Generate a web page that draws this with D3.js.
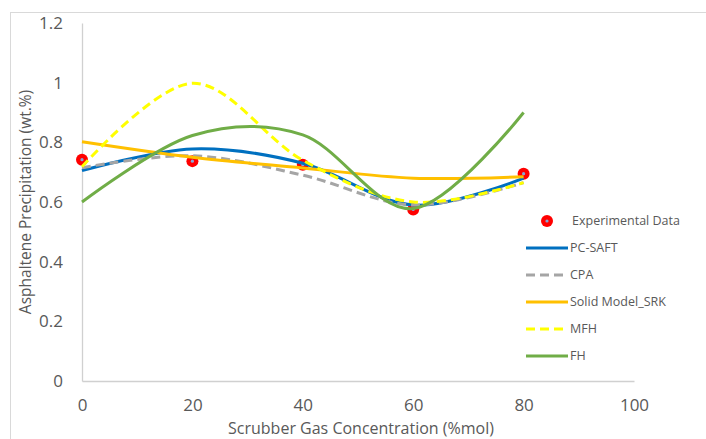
<!DOCTYPE html>
<html><head><meta charset="utf-8">
<script src="https://cdn.jsdelivr.net/npm/d3@7"></script>
<style>body{margin:0;background:#fff;} svg{display:block;}</style>
</head><body>
<script>
const xValues = [0, 20, 40, 60, 80];
const experimental = [0.742, 0.737, 0.725, 0.575, 0.695];
const pcSaft = [0.705, 0.778, 0.73, 0.59, 0.68];
const cpa = [0.715, 0.755, 0.69, 0.59, 0.665];
const solidSRK = [0.802, 0.75, 0.714, 0.68, 0.685];
const mfh = [0.718, 0.998, 0.74, 0.6, 0.665];
const fh = [0.6, 0.823, 0.825, 0.578, 0.9];
const xTicks = [0, 20, 40, 60, 80, 100];
const yTicks = [0, 0.2, 0.4, 0.6, 0.8, 1, 1.2];
const seriesNames = ["Experimental Data", "PC-SAFT", "CPA", "Solid Model_SRK", "MFH", "FH"];

const W = 706, H = 439;
const font = "'Open Sans', sans-serif";
const textColor = "#595959";
const svg = d3.select("body").append("svg").attr("width", W).attr("height", H);

svg.append("rect").attr("x", 10.5).attr("y", 12.5).attr("width", 720).attr("height", 450)
  .attr("fill", "#fff").attr("stroke", "#d9d9d9").attr("stroke-width", 1);

const x = d3.scaleLinear().domain([0, 100]).range([82, 634]);
const y = d3.scaleLinear().domain([0, 1.2]).range([381, 23]);

// axes
const xAxis = svg.append("g").attr("transform", `translate(0,${y(0)})`)
  .call(d3.axisBottom(x).tickValues(xTicks).tickSize(0).tickPadding(18).tickFormat(d3.format("d")));
const yAxis = svg.append("g").attr("transform", `translate(${x(0)},0)`)
  .call(d3.axisLeft(y).tickValues(yTicks).tickSize(0).tickPadding(19).tickFormat(d => d === 0 ? "0" : String(+d.toFixed(1))));
[xAxis, yAxis].forEach(a => {
  a.select(".domain").attr("stroke", "#d0d0d0").attr("stroke-width", 1.3);
  a.selectAll("text").attr("font-family", font).attr("font-size", 17).attr("fill", textColor);
});

svg.append("text").attr("x", 361).attr("y", 434).attr("text-anchor", "middle")
  .attr("font-family", font).attr("font-size", 16).attr("fill", textColor)
  .text("Scrubber Gas Concentration (%mol)");
svg.append("text").attr("transform", "translate(31,202) rotate(-90)").attr("text-anchor", "middle")
  .attr("font-family", font).attr("font-size", 15.5).attr("fill", textColor)
  .text("Asphaltene Precipitation (wt.%)");

const lineSeries = [
  {name: seriesNames[1], vals: pcSaft, color: "#0070C0", dash: null},
  {name: seriesNames[2], vals: cpa, color: "#A5A5A5", dash: "9,5"},
  {name: seriesNames[3], vals: solidSRK, color: "#FFC000", dash: null},
  {name: seriesNames[4], vals: mfh, color: "#FFFF00", dash: "9,5"},
  {name: seriesNames[5], vals: fh, color: "#70AD47", dash: null}
];

const line = d3.line().x(d => x(d[0])).y(d => y(d[1])).curve(d3.curveCardinal.tension(0));

// markers (drawn first)
const mk = svg.append("g");
xValues.forEach((xv, i) => {
  mk.append("circle").attr("cx", x(xv)).attr("cy", y(experimental[i])).attr("r", 6).attr("fill", "#FF0000");
  mk.append("circle").attr("cx", x(xv)).attr("cy", y(experimental[i])).attr("r", 1.6).attr("fill", "#8aa6d6");
});

lineSeries.forEach(s => {
  svg.append("path").datum(xValues.map((xv, i) => [xv, s.vals[i]]))
    .attr("d", line).attr("fill", "none").attr("stroke", s.color).attr("stroke-width", 3)
    .attr("stroke-dasharray", s.dash).attr("stroke-linecap", "butt");
});

// legend
const lg = svg.append("g");
const ly0 = 221, ldy = 27;
lg.append("circle").attr("cx", 547).attr("cy", ly0).attr("r", 6).attr("fill", "#FF0000");
lg.append("circle").attr("cx", 547).attr("cy", ly0).attr("r", 1.6).attr("fill", "#8aa6d6");
lg.append("text").attr("x", 572).attr("y", ly0).attr("dy", "0.35em")
  .attr("font-family", font).attr("font-size", 12.5).attr("fill", textColor).text(seriesNames[0]);
lineSeries.forEach((s, i) => {
  const yy = ly0 + ldy * (i + 1);
  lg.append("line").attr("x1", 526).attr("x2", 568).attr("y1", yy).attr("y2", yy)
    .attr("stroke", s.color).attr("stroke-width", 3).attr("stroke-dasharray", s.dash);
  lg.append("text").attr("x", 570).attr("y", yy).attr("dy", "0.35em")
    .attr("font-family", font).attr("font-size", 12.5).attr("fill", textColor).text(s.name);
});
</script>
</body></html>
